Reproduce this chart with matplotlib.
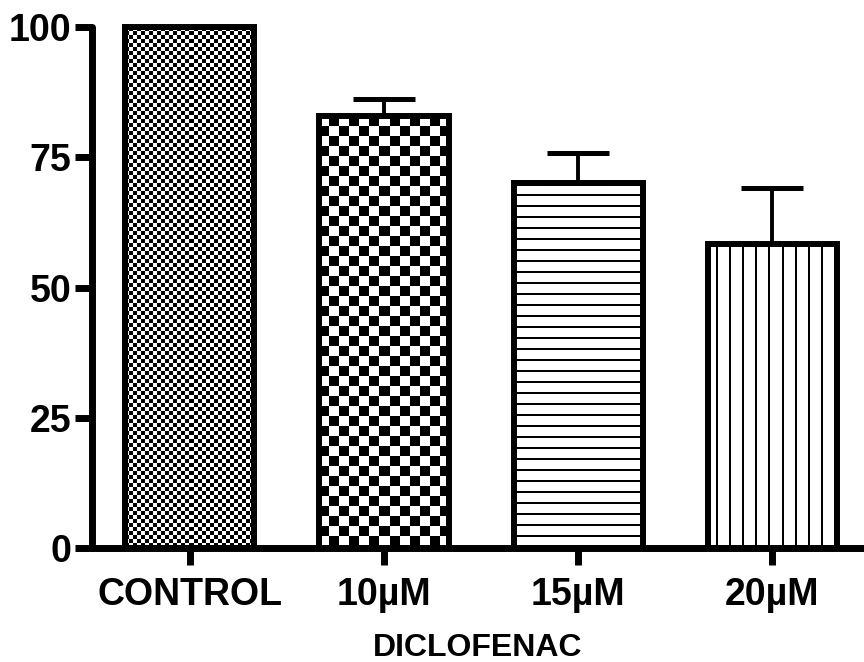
import numpy as np
import matplotlib
matplotlib.use("Agg")
import matplotlib.pyplot as plt

categories = ["CONTROL", "10\u00b5M", "15\u00b5M", "20\u00b5M"]
means = [100.0, 82.9, 70.0, 58.3]
errors = [0.0, 3.3, 5.8, 10.8]
patterns = ["fine", "coarse", "hlines", "vlines"]
yticks = [0, 25, 50, 75, 100]
xlabel = "DICLOFENAC"

plt.rcParams['font.family'] = ['Liberation Sans', 'DejaVu Sans']
plt.rcParams['font.weight'] = 'bold'

W, H = 864, 662
fig = plt.figure(figsize=(W / 100, H / 100), dpi=100)
ax = fig.add_axes([92 / W, (H - 548) / H, (W - 92) / W, (548 - 27) / H])

x = np.arange(len(categories))
ax.set_xlim(-0.505, 3.474)
ax.set_ylim(0, 100)

bars = ax.bar(x, means, width=0.665, facecolor='none', edgecolor='black',
              linewidth=4.3, zorder=3, clip_on=False)

def make_pattern(kind, w, h):
    yy, xx = np.mgrid[0:h, 0:w]
    if kind == "fine":
        c = 4
        return ((xx // c + yy // c) % 2).astype(float)
    if kind == "coarse":
        c = 10
        return ((xx // c + yy // c) % 2).astype(float)
    if kind == "hlines":
        return ((yy % 11) < 2).astype(float)
    if kind == "vlines":
        return (((xx - 8) % 13) < 2).astype(float)
    return np.zeros((h, w))

for b, kind in zip(bars, patterns):
    x0, y0 = b.get_x(), b.get_y()
    x1, y1 = x0 + b.get_width(), y0 + b.get_height()
    p0 = ax.transData.transform((x0, y0))
    p1 = ax.transData.transform((x1, y1))
    w = int(round(p1[0] - p0[0]))
    h = int(round(p1[1] - p0[1]))
    img = make_pattern(kind, w, h)
    im = ax.imshow(img, extent=(x0, x1, y0, y1), cmap='gray_r', vmin=0, vmax=1,
                   interpolation='nearest', aspect='auto', zorder=2, origin='upper')
    im.set_clip_path(b)

ax.set_xlim(-0.505, 3.474)
ax.set_ylim(0, 100)

ax.errorbar(x[1:], means[1:], yerr=[np.zeros(len(x) - 1), errors[1:]], fmt='none',
            ecolor='black', elinewidth=2.8, capsize=22, capthick=3.6, zorder=2.5,
            clip_on=False)

for s in ['top', 'right']:
    ax.spines[s].set_visible(False)
for s in ['left', 'bottom']:
    ax.spines[s].set_linewidth(5)
    ax.spines[s].set_capstyle('round')

ax.set_xticks(x)
ax.set_xticklabels(categories)
ax.set_yticks(yticks)
ax.set_yticklabels([str(v) for v in yticks])
ax.tick_params(axis='both', direction='out', length=12, width=5, labelsize=27)
ax.tick_params(axis='x', pad=9)
ax.tick_params(axis='y', pad=3)
for t in ax.get_xticklabels() + ax.get_yticklabels():
    t.set_fontweight('bold')
ax.set_xlabel(xlabel, fontsize=23, fontweight='bold', labelpad=14)

fig.savefig("out.png", dpi=100)
